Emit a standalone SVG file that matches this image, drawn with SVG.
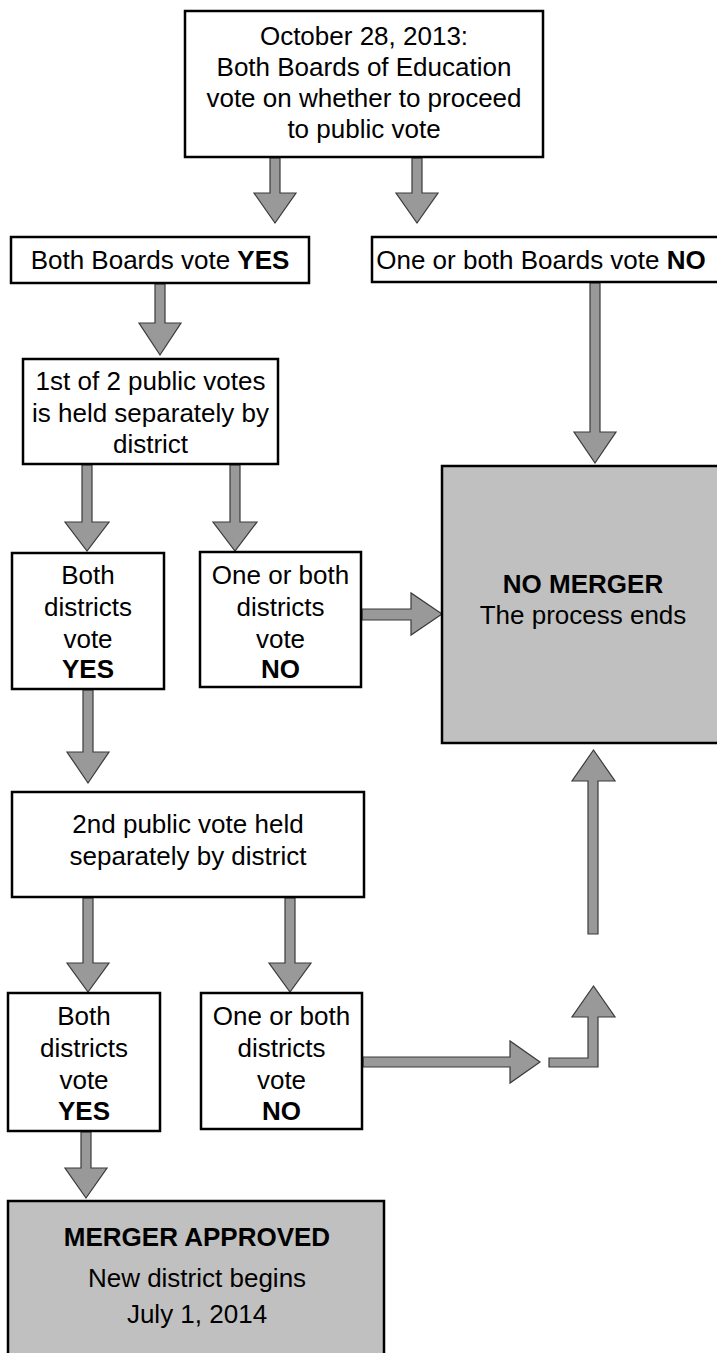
<svg xmlns="http://www.w3.org/2000/svg" width="717" height="1353" viewBox="0 0 717 1353">
<style>
.box{fill:#fff;stroke:#000;stroke-width:2.5}
.end{fill:#c0c0c0;stroke:#000;stroke-width:2.5}
.arr{fill:#999;stroke:#3a3a3a;stroke-width:1.2;stroke-linejoin:miter}
text{font-family:"Liberation Sans",Arial,sans-serif;font-size:26px;fill:#000;text-anchor:middle}
.b{font-weight:bold}
</style>
<rect width="717" height="1353" fill="#fff"/>
<g id="connectors">
<polygon class="arr" points="270,158 280,158 280,193 296,193 275,223 254,193 270,193"/>
<polygon class="arr" points="412,158 422,158 422,193 438,193 417,223 396,193 412,193"/>
<polygon class="arr" points="155,284 165,284 165,323 181,323 160,355 139,323 155,323"/>
<polygon class="arr" points="82,465 92,465 92,522 109,522 87,551 65,522 82,522"/>
<polygon class="arr" points="230,465 240,465 240,522 257,522 235,551 213,522 230,522"/>
<polygon class="arr" points="590,283 600,283 600,432 616,432 595,463 574,432 590,432"/>
<polygon class="arr" points="83,690 93,690 93,752 109,752 88,783 67,752 83,752"/>
<polygon class="arr" points="83,898 93,898 93,963 109,963 88,992 67,963 83,963"/>
<polygon class="arr" points="285,898 295,898 295,963 311,963 290,992 269,963 285,963"/>
<polygon class="arr" points="81,1132 91,1132 91,1168 107,1168 86,1198 65,1168 81,1168"/>
<polygon class="arr" points="362,609 411,609 411,593 442,614 411,635 411,620 362,620"/>
<polygon class="arr" points="363,1057 510,1057 510,1041 540,1062 510,1083 510,1067 363,1067"/>
<polygon class="arr" points="588,934 588,781 572,781 593.5,750 615,781 598,781 598,934"/>
<polygon class="arr" points="549,1058 588,1058 588,1017 572,1017 593.5,986 615,1017 598,1017 598,1067 549,1067"/>
</g>
<g id="start">
<rect class="box" x="185" y="11" width="358" height="146"/>
<text x="364" y="45">October 28, 2013:</text>
<text x="364" y="76">Both Boards of Education</text>
<text x="364" y="107">vote on whether to proceed</text>
<text x="364" y="138">to public vote</text>
</g>
<g id="boards-yes">
<rect class="box" x="11" y="237" width="298" height="46"/>
<text x="160" y="269">Both Boards vote <tspan class="b">YES</tspan></text>
</g>
<g id="boards-no">
<rect class="box" x="372" y="237" width="350" height="45"/>
<text x="541" y="269">One or both Boards vote <tspan class="b">NO</tspan></text>
</g>
<g id="vote1">
<rect class="box" x="23" y="359" width="255" height="105"/>
<text x="150.5" y="390">1st of 2 public votes</text>
<text x="150.5" y="422">is held separately by</text>
<text x="150.5" y="453">district</text>
</g>
<g id="vote1-yes">
<rect class="box" x="12" y="553" width="152" height="136"/>
<text x="88" y="584">Both</text>
<text x="88" y="616">districts</text>
<text x="88" y="648">vote</text>
<text x="88" y="678" class="b">YES</text>
</g>
<g id="vote1-no">
<rect class="box" x="200" y="552" width="161" height="135"/>
<text x="280.5" y="584">One or both</text>
<text x="280.5" y="616">districts</text>
<text x="280.5" y="648">vote</text>
<text x="280.5" y="678" class="b">NO</text>
</g>
<g id="no-merger">
<rect class="end" x="442" y="466" width="290" height="277"/>
<text x="583" y="593" class="b">NO MERGER</text>
<text x="583" y="624">The process ends</text>
</g>
<g id="vote2">
<rect class="box" x="12" y="792" width="352" height="105"/>
<text x="188" y="833">2nd public vote held</text>
<text x="188" y="865">separately by district</text>
</g>
<g id="vote2-yes">
<rect class="box" x="8" y="993" width="152" height="138"/>
<text x="84" y="1025">Both</text>
<text x="84" y="1057">districts</text>
<text x="84" y="1089">vote</text>
<text x="84" y="1120" class="b">YES</text>
</g>
<g id="vote2-no">
<rect class="box" x="201" y="993" width="161" height="136"/>
<text x="281.5" y="1025">One or both</text>
<text x="281.5" y="1057">districts</text>
<text x="281.5" y="1089">vote</text>
<text x="281.5" y="1120" class="b">NO</text>
</g>
<g id="merger-approved">
<rect class="end" x="8" y="1201" width="376" height="170"/>
<text x="197" y="1246" class="b">MERGER APPROVED</text>
<text x="197" y="1287">New district begins</text>
<text x="197" y="1323">July 1, 2014</text>
</g>
</svg>
